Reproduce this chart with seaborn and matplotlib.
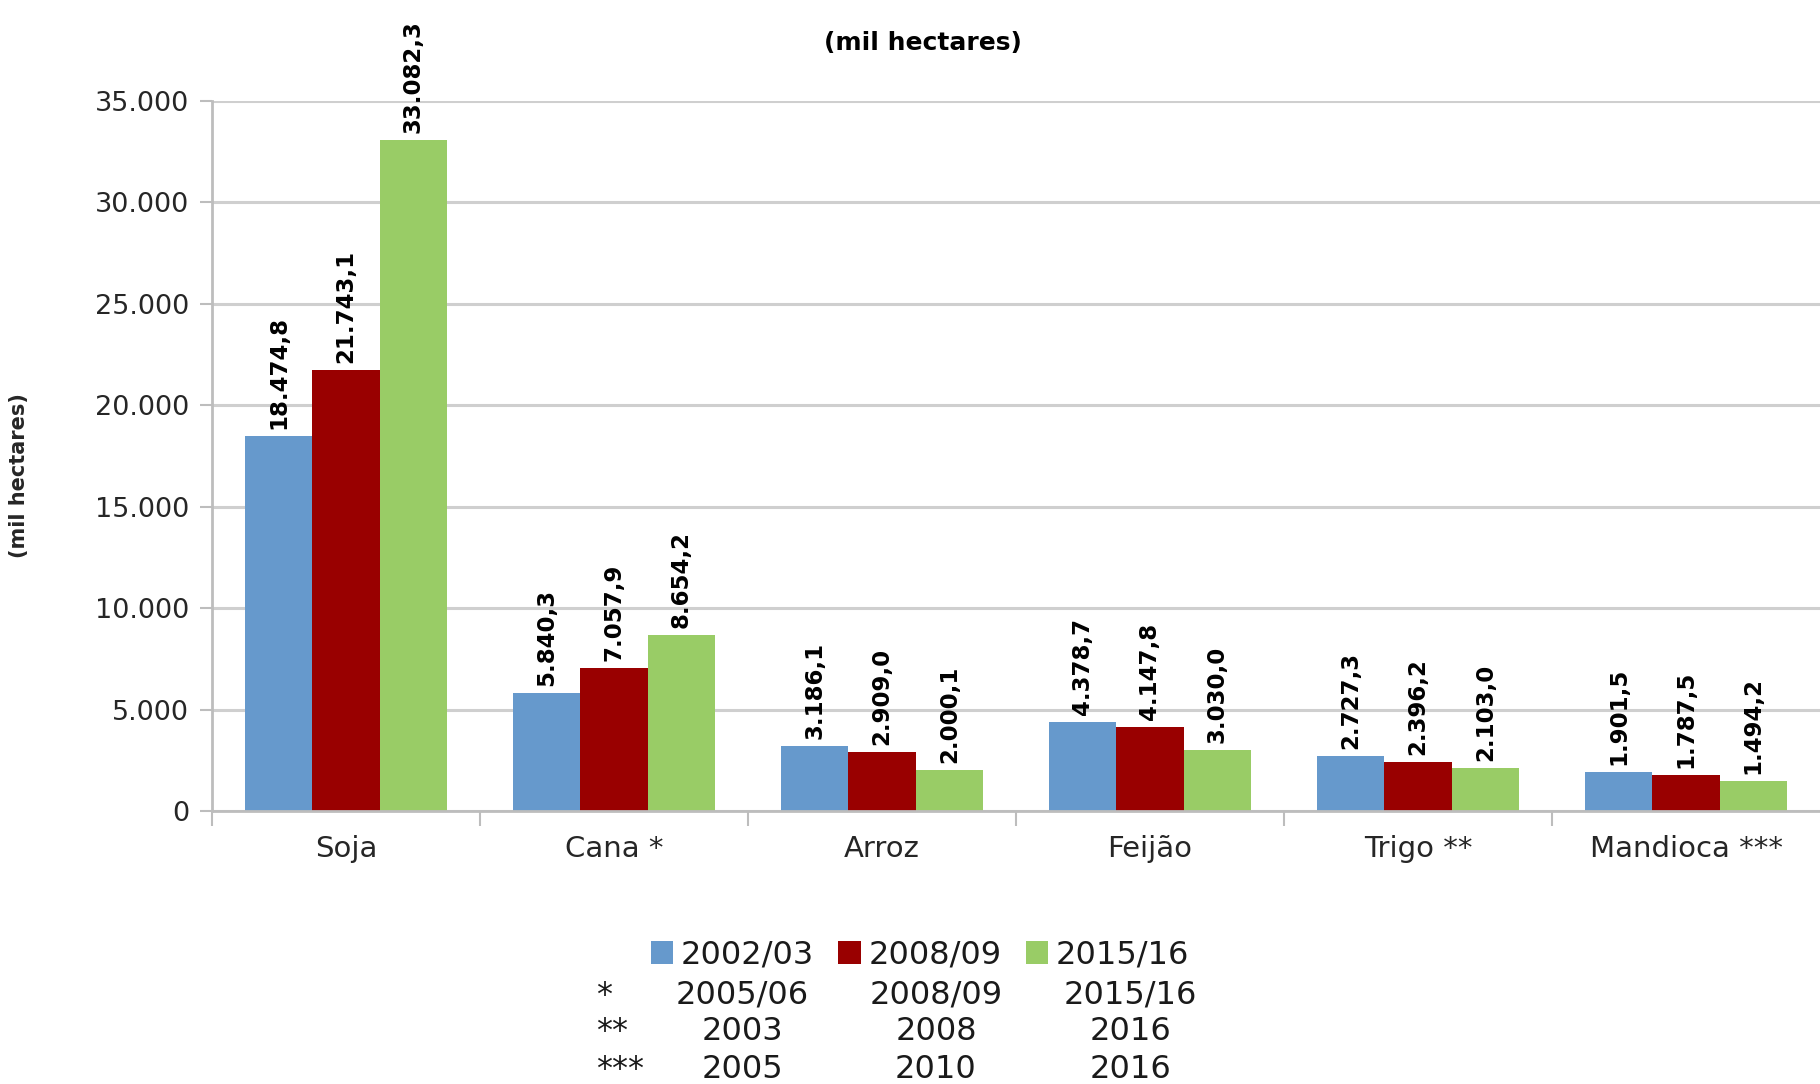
import matplotlib
matplotlib.use("Agg")
import matplotlib.pyplot as plt
import seaborn as sns
import pandas as pd
from matplotlib.ticker import FuncFormatter, FixedLocator

categories = ["Soja", "Cana *", "Arroz", "Feijão", "Trigo **", "Mandioca ***"]
series_names = ["2002/03", "2008/09", "2015/16"]
values_2002 = [18474.8, 5840.3, 3186.1, 4378.7, 2727.3, 1901.5]
values_2008 = [21743.1, 7057.9, 2909.0, 4147.8, 2396.2, 1787.5]
values_2015 = [33082.3, 8654.2, 2000.1, 3030.0, 2103.0, 1494.2]
colors = ["#6699CC", "#990000", "#99CC66"]
footnote_marks = ["*", "**", "***"]
footnote_years = [["2005/06", "2008/09", "2015/16"],
                  ["2003", "2008", "2016"],
                  ["2005", "2010", "2016"]]

rows = []
for name, vals in zip(series_names, [values_2002, values_2008, values_2015]):
    for c, v in zip(categories, vals):
        rows.append({"cat": c, "serie": name, "valor": v})
df = pd.DataFrame(rows)

sns.set_theme(style="white")
plt.rcParams['font.family'] = ['DejaVu Sans']

fig = plt.figure(figsize=(18.2, 10.84), dpi=100)
ax = fig.add_axes([212/1820, 1 - 811/1084, 1 - 212/1820, (811 - 101)/1084])

sns.barplot(data=df, x="cat", y="valor", hue="serie", order=categories,
            hue_order=series_names, palette=colors, width=0.754,
            errorbar=None, linewidth=0, saturation=1, ax=ax, legend=True)

def br(v):
    s = f"{v:,.1f}"
    return s.replace(",", "X").replace(".", ",").replace("X", ".")

for cont, vals in zip(ax.containers, [values_2002, values_2008, values_2015]):
    ax.bar_label(cont, labels=[br(v) for v in vals], rotation=90, padding=5,
                 fontsize=16.5, fontweight="bold", color="black")

ax.set_ylim(0, 35000)
ax.set_xlim(-0.5, 5.5)
ax.set_yticks(range(0, 35001, 5000))
ax.yaxis.set_major_formatter(FuncFormatter(lambda v, p: f"{int(v):,}".replace(",", ".")))
ax.grid(axis="y", color="#CFCFCF", linewidth=2.2)
ax.set_axisbelow(True)
for s in ["top", "right"]:
    ax.spines[s].set_visible(False)
for s in ["left", "bottom"]:
    ax.spines[s].set_color("#BDBDBD")
    ax.spines[s].set_linewidth(2.0)

ax.tick_params(axis="y", which="major", length=8.6, width=1.5, color="#BDBDBD",
               pad=8, labelsize=19.5, labelcolor="#262626", left=True)
ax.tick_params(axis="x", which="major", length=0, pad=17, labelsize=21,
               labelcolor="#262626")
ax.xaxis.set_minor_locator(FixedLocator([i - 0.5 for i in range(len(categories))]))
ax.tick_params(axis="x", which="minor", length=11, width=1.5, color="#BDBDBD",
               bottom=True)

ax.set_xlabel("")
ax.set_ylabel("(mil hectares)", fontsize=15, fontweight="bold", color="#262626")
ax.yaxis.set_label_coords(-0.114, 0.472)

fig.text(923/1820, 1 - 43/1084, "(mil hectares)", ha="center", va="center",
         fontsize=18, fontweight="bold", color="black")

handles, labels = ax.get_legend_handles_labels()
ax.get_legend().remove()
fig.legend(handles, labels, loc="center", bbox_to_anchor=(920/1820, 1 - 955/1084),
           ncol=3, frameon=False, fontsize=23, handlelength=0.7, handleheight=0.7,
           handletextpad=0.25, columnspacing=0.75, borderpad=0, labelcolor="#1a1a1a")

col_x = [742/1820, 936/1820, 1130/1820]
row_y = [1 - 995/1084, 1 - 1032/1084, 1 - 1069/1084]
for mark, years, y in zip(footnote_marks, footnote_years, row_y):
    fig.text(596/1820, y, mark, ha="left", va="center", fontsize=23, color="#1a1a1a")
    for x, yr in zip(col_x, years):
        fig.text(x, y, yr, ha="center", va="center", fontsize=23, color="#1a1a1a")

fig.savefig("out.png", dpi=100)
